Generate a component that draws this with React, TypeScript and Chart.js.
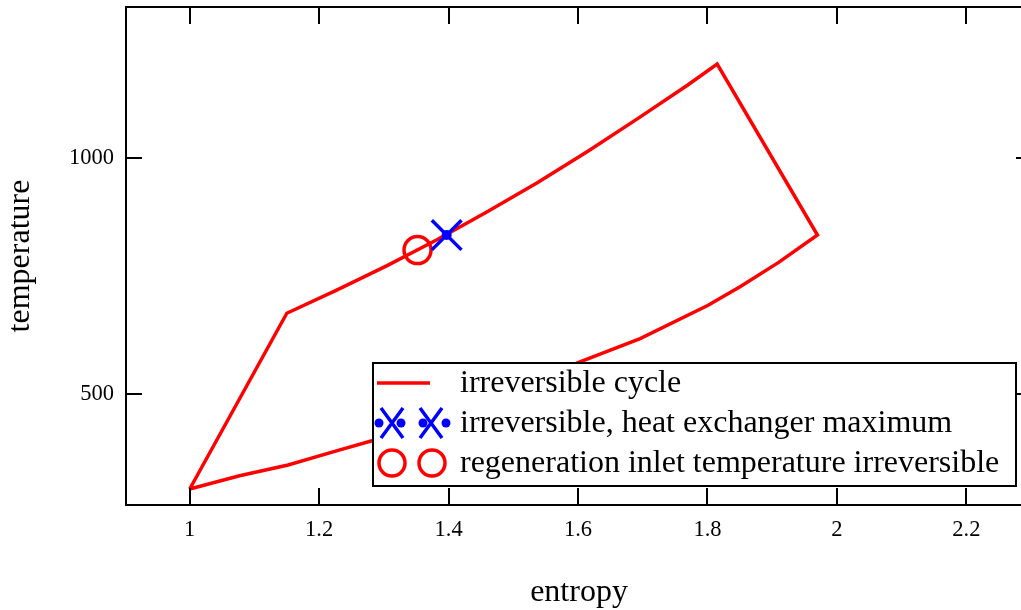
import React, { useEffect, useRef } from 'react';
import { Chart, registerables } from 'chart.js';
Chart.register(...registerables);

const FONT = "'Liberation Serif', 'Times New Roman', serif";

// cycle loop: entropy / temperature
const cycleS = [1.0, 1.150, 1.227, 1.305, 1.382, 1.459, 1.537, 1.614, 1.691, 1.769, 1.815, 1.970, 1.910, 1.851, 1.801, 1.696, 1.600, 1.510, 1.418, 1.283, 1.232, 1.152, 1.077, 1.0];
const cycleT = [298, 671, 720, 772, 827, 886, 948, 1014, 1083, 1155, 1200, 837, 779, 728, 688, 617, 566, 512, 462, 401, 381, 349, 326, 298];

const heatS = [1.397];
const heatT = [837];

const regenS = [1.352];
const regenT = [805];

const xTicks = [1, 1.2, 1.4, 1.6, 1.8, 2, 2.2];
const yTicks = [500, 1000];

const legendLabels = [
  'irreversible cycle',
  'irreversible, heat exchanger maximum',
  'regeneration inlet temperature irreversible',
];

const toPts = (xs: number[], ys: number[]) => xs.map((x, i) => ({ x, y: ys[i] }));

export default function App() {
  const ref = useRef<HTMLCanvasElement>(null);

  useEffect(() => {
    const cv = ref.current!;

    const drawX = (ctx: CanvasRenderingContext2D, x: number, y: number, rx: number, ry: number) => {
      ctx.beginPath();
      ctx.moveTo(x - rx, y - ry);
      ctx.lineTo(x + rx, y + ry);
      ctx.moveTo(x - rx, y + ry);
      ctx.lineTo(x + rx, y - ry);
      ctx.stroke();
    };
    const dot = (ctx: CanvasRenderingContext2D, x: number, y: number, r: number) => {
      ctx.beginPath();
      ctx.arc(x, y, r, 0, Math.PI * 2);
      ctx.fill();
    };

    const framePlugin = {
      id: 'frame',
      afterDraw(chart: any) {
        const { ctx, chartArea: a, scales } = chart;
        ctx.save();
        ctx.strokeStyle = '#000';
        ctx.lineWidth = 2;
        ctx.beginPath();
        for (const v of xTicks) {
          const px = Math.round(scales.x.getPixelForValue(v));
          ctx.moveTo(px, a.bottom);
          ctx.lineTo(px, a.bottom - 17);
          ctx.moveTo(px, a.top);
          ctx.lineTo(px, a.top + 17);
        }
        for (const v of yTicks) {
          const py = Math.round(scales.y.getPixelForValue(v));
          ctx.moveTo(a.left, py);
          ctx.lineTo(a.left + 16, py);
          ctx.moveTo(a.right, py);
          ctx.lineTo(a.right - 16, py);
        }
        ctx.stroke();
        ctx.strokeRect(a.left, a.top, a.right - a.left, a.bottom - a.top);

        // legend
        const L = 373, T = 363, R = 1016, B = 486;
        ctx.fillStyle = '#fff';
        ctx.fillRect(L, T, R - L, B - T);
        ctx.strokeStyle = '#000';
        ctx.lineWidth = 2;
        ctx.strokeRect(L, T, R - L, B - T);
        const rows = [383, 423, 463];
        // row 1: line
        ctx.strokeStyle = '#ff0000';
        ctx.lineWidth = 3.5;
        ctx.beginPath();
        ctx.moveTo(377, rows[0]);
        ctx.lineTo(430, rows[0]);
        ctx.stroke();
        // row 2: crosses with dots
        ctx.strokeStyle = '#0000ff';
        ctx.fillStyle = '#0000ff';
        ctx.lineWidth = 3.5;
        drawX(ctx, 392, rows[1], 11, 15);
        drawX(ctx, 431, rows[1], 11, 15);
        dot(ctx, 379, rows[1], 4.5);
        dot(ctx, 401, rows[1], 4.5);
        dot(ctx, 423, rows[1], 4.5);
        dot(ctx, 446, rows[1], 4.5);
        // row 3: circles
        ctx.strokeStyle = '#ff0000';
        ctx.lineWidth = 3.5;
        ctx.beginPath();
        ctx.arc(392, rows[2], 13, 0, Math.PI * 2);
        ctx.stroke();
        ctx.beginPath();
        ctx.arc(432, rows[2], 13, 0, Math.PI * 2);
        ctx.stroke();
        // texts
        ctx.fillStyle = '#000';
        ctx.font = `32px ${FONT}`;
        ctx.textBaseline = 'middle';
        ctx.textAlign = 'left';
        legendLabels.forEach((t, i) => ctx.fillText(t, 460, rows[i] + 1));
        ctx.restore();
      },
    };

    const chart = new Chart(cv, {
      type: 'scatter',
      data: {
        datasets: [
          {
            label: 'heat-dot',
            data: toPts(heatS, heatT),
            pointStyle: 'circle',
            pointRadius: 5,
            backgroundColor: '#0000ff',
            borderColor: '#0000ff',
            borderWidth: 0,
          },
          {
            label: legendLabels[1],
            data: toPts(heatS, heatT),
            pointStyle: 'crossRot',
            pointRadius: 21,
            borderColor: '#0000ff',
            backgroundColor: '#0000ff',
            borderWidth: 3.5,
          },
          {
            label: legendLabels[2],
            data: toPts(regenS, regenT),
            pointStyle: 'circle',
            pointRadius: 13.5,
            borderColor: '#ff0000',
            backgroundColor: 'rgba(0,0,0,0)',
            borderWidth: 3.5,
          },
          {
            label: legendLabels[0],
            data: toPts(cycleS, cycleT),
            showLine: true,
            borderColor: '#ff0000',
            borderWidth: 3.5,
            borderJoinStyle: 'miter',
            pointRadius: 0,
            tension: 0,
            fill: false,
          },
        ],
      },
      options: {
        responsive: false,
        animation: false,
        events: [],
        layout: { autoPadding: false, padding: { top: 7, right: 13, left: 0, bottom: 0 } },
        plugins: { legend: { display: false }, tooltip: { enabled: false } },
        scales: {
          x: {
            type: 'linear',
            min: 0.9015,
            max: 2.3015,
            afterBuildTicks: (s: any) => { s.ticks = xTicks.map((v) => ({ value: v })); },
            afterFit: (s: any) => { s.height = 105; s.paddingLeft = 0; s.paddingRight = 0; },
            grid: { display: false, drawTicks: false },
            border: { display: false },
            ticks: {
              padding: 12,
              color: '#000',
              font: { family: FONT, size: 22.5 },
              callback: (v: any) => String(v),
            },
            title: {
              display: true,
              text: 'entropy',
              color: '#000',
              font: { family: FONT, size: 32, lineHeight: 1.1 },
              padding: 0,
            },
          },
          y: {
            type: 'linear',
            min: 264,
            max: 1321,
            afterBuildTicks: (s: any) => { s.ticks = yTicks.map((v) => ({ value: v })); },
            afterFit: (s: any) => { s.width = 126; s.paddingTop = 0; s.paddingBottom = 0; },
            grid: { display: false, drawTicks: false },
            border: { display: false },
            ticks: {
              padding: 12,
              color: '#000',
              font: { family: FONT, size: 22.5 },
              callback: (v: any) => String(v),
            },
            title: {
              display: true,
              text: 'temperature',
              color: '#000',
              font: { family: FONT, size: 32, lineHeight: 1.1 },
              padding: { top: 3, bottom: 3 },
            },
          },
        },
      },
      plugins: [framePlugin],
    });
    return () => chart.destroy();
  }, []);

  return (
    <div style={{ position: 'fixed', left: 0, top: 0, width: 1021, height: 610, overflow: 'hidden', background: '#fff' }}>
      <canvas ref={ref} width={1045} height={610} style={{ display: 'block' }} />
    </div>
  );
}
